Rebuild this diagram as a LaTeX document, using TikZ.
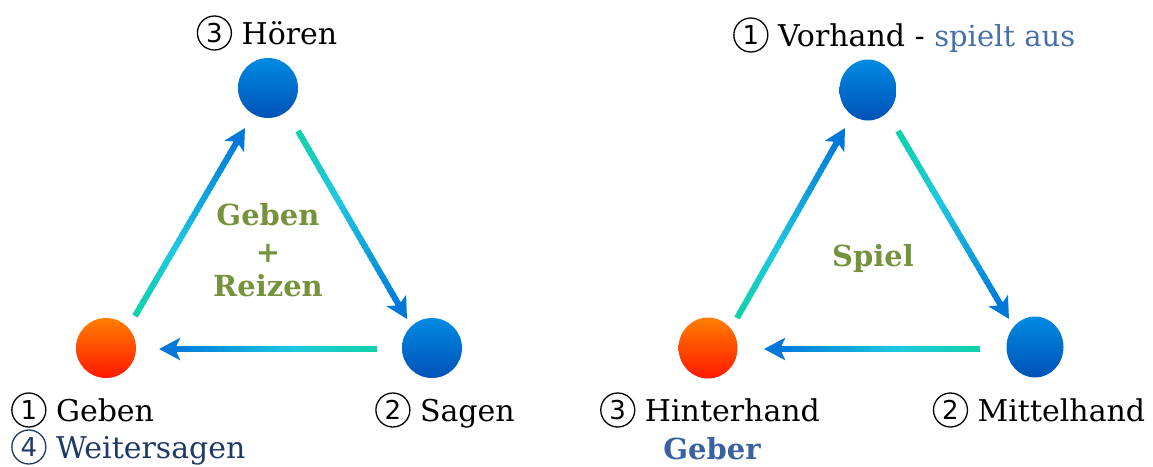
\documentclass[tikz,border=0pt]{standalone}
\usepackage{fontspec}
\setmainfont{DejaVu Serif}
\newfontfamily\circfont{DejaVu Sans}
\usetikzlibrary{arrows.meta,calc,shapes.geometric}
\definecolor{cteal}{HTML}{10D2A8}
\definecolor{ccyan}{HTML}{1EC8E0}
\definecolor{cblue}{HTML}{0078DA}
\definecolor{dtop}{HTML}{008AE2}
\definecolor{dbot}{HTML}{0052B6}
\definecolor{otop}{HTML}{FF7E00}
\definecolor{obot}{HTML}{FF1800}
\definecolor{cgreen}{HTML}{76923C}
\definecolor{cnavy}{HTML}{1F3A68}
\definecolor{clight}{HTML}{4670AC}
\definecolor{cgeber}{HTML}{3A62A0}
\newcommand\cn[1]{\tikz[x=1pt,y=1pt,baseline=0pt]{\draw[line width=1.3pt] (0,11) circle[radius=17]; \node[inner sep=0pt, font=\circfont\fontsize{26}{28}\selectfont, anchor=center] at (0,11) {#1};}}
\newcommand\gradarrow[2]{%
  \coordinate (gaE) at ($(#2)!14pt!(#1)$);
  \foreach \i in {0,...,39}{%
    \pgfmathsetmacro\ta{\i/40}%
    \pgfmathsetmacro\tb{min((\i+1.4)/40,1)}%
    \pgfmathsetmacro\tt{(\i+0.5)/40}%
    \ifdim\tt pt<0.4pt
      \pgfmathsetmacro\pp{\tt/0.4*100}\colorlet{segc}{ccyan!\pp!cteal}%
    \else
      \pgfmathsetmacro\pp{(\tt-0.4)/0.6*100}\colorlet{segc}{cblue!\pp!ccyan}%
    \fi
    \draw[segc, line width=6pt] ($(#1)!\ta!(gaE)$) -- ($(#1)!\tb!(gaE)$);
  }
  \draw[cblue, line width=6pt, -{Stealth[length=21pt,width=22pt,inset=5pt]}] ($(#2)!18pt!(#1)$) -- (#2);
}
\tikzset{
  bdot/.style={circle, minimum size=60pt, inner sep=0pt, top color=dtop, bottom color=dbot, draw=none},
  odot/.style={circle, minimum size=60pt, inner sep=0pt, top color=otop, bottom color=obot, draw=none},
  bell/.style={ellipse, minimum width=57pt, minimum height=61pt, inner sep=0pt, top color=dtop, bottom color=dbot, draw=none},
  oell/.style={ellipse, minimum width=59pt, minimum height=61pt, inner sep=0pt, top color=otop, bottom color=obot, draw=none},
  lbl/.style={font=\fontsize{30}{36}\selectfont, inner sep=0pt},
  ctr/.style={font=\bfseries\fontsize{29}{34}\selectfont, text=cgreen, inner sep=0pt},
}
\begin{document}
\begin{tikzpicture}[x=1pt,y=-1pt]
\useasboundingbox (0,0) rectangle (1153,466);
% left triangle
\node[odot] (G) at (106,348) {};
\node[bdot] (H) at (268,88) {};
\node[bdot] (S) at (432,348) {};
\coordinate (a1t) at (135,316); \coordinate (a1h) at (245,128);
\coordinate (a2t) at (298,131); \coordinate (a2h) at (407,319);
\coordinate (a3t) at (377,349); \coordinate (a3h) at (159,349);
\gradarrow{a1t}{a1h}
\gradarrow{a2t}{a2h}
\gradarrow{a3t}{a3h}
\node[lbl, anchor=base] (tH) at (267,44) {\cn{3} Hören};
\node[lbl, anchor=base west] (tG) at (11,421) {\cn{1} Geben};
\node[lbl, anchor=base west, text=cnavy] (tW) at (11,458) {\cn{4} Weitersagen};
\node[lbl, anchor=base] (tS) at (445,421) {\cn{2} Sagen};
\node[ctr, anchor=base] (c1) at (268,225) {Geben};
\node[ctr, anchor=base] (c2) at (268,262) {+};
\node[ctr, anchor=base] (c3) at (268,296) {Reizen};
% right triangle
\node[oell] (Hi) at (708,348) {};
\node[bell] (V) at (868,90) {};
\node[bell] (M) at (1035,347) {};
\coordinate (b1t) at (737,318); \coordinate (b1h) at (845,128);
\coordinate (b2t) at (898,131); \coordinate (b2h) at (1009,319);
\coordinate (b3t) at (980,349); \coordinate (b3h) at (764,349);
\gradarrow{b1t}{b1h}
\gradarrow{b2t}{b2h}
\gradarrow{b3t}{b3h}
\node[lbl, anchor=base west] (tV) at (733,46) {\cn{1} Vorhand - {\fontsize{29}{30}\selectfont\color{clight}spielt aus}};
\node[lbl, anchor=base] (tHi) at (710,421) {\cn{3} Hinterhand};
\node[lbl, anchor=base, font=\bfseries\fontsize{29}{34}\selectfont, text=cgeber] (tGe) at (712,459) {Geber};
\node[lbl, anchor=base] (tM) at (1039,421) {\cn{2} Mittelhand};
\node[ctr, anchor=base] (c4) at (873,266) {Spiel};
\end{tikzpicture}
\end{document}
